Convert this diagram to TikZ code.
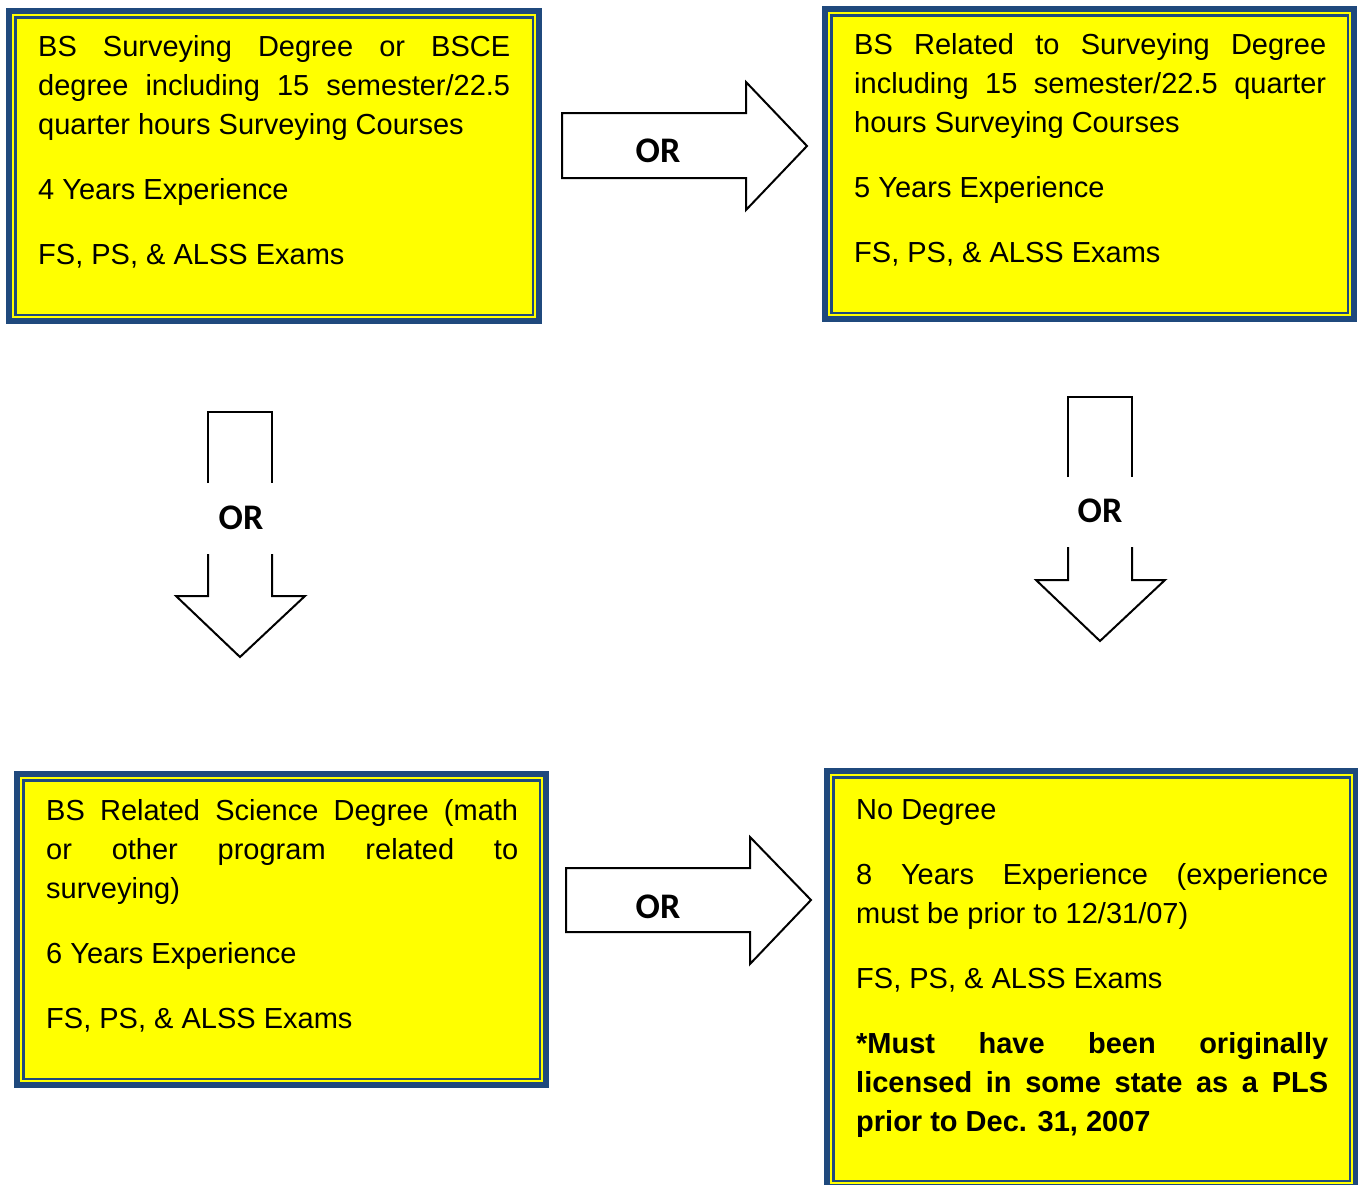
\documentclass[tikz,border=0pt]{standalone}
\usepackage{fontspec}
\setmainfont{Liberation Sans}
\newfontfamily\orfont{Carlito}
\definecolor{bblue}{RGB}{31,73,125}
\definecolor{byel}{RGB}{255,255,0}
\tikzset{
  boxtext/.style={anchor=base west, text width=472pt, inner sep=0pt, align=justify,
    font=\fontsize{29}{39}\selectfont},
  orlabel/.style={font=\orfont\bfseries\fontsize{36}{36}\selectfont, inner sep=0pt},
  blockarrow/.style={draw=black, line width=2pt, line join=miter},
}
\newcommand{\qframe}[4]{%
  \fill[bblue] (#1,#2) rectangle (#3,#4);
  \fill[byel] (#1+6,#2+6) rectangle (#3-6,#4-6);
  \fill[bblue] (#1+8,#2+8) rectangle (#3-8,#4-8);
  \fill[byel] (#1+10.5,#2+10.5) rectangle (#3-10.5,#4-10.5);
}
\newcommand{\qsetup}{\setlength{\parskip}{26pt}\tolerance=10000 \hbadness=10000 \pretolerance=-1 \lefthyphenmin=64 }
\begin{document}
\begin{tikzpicture}[x=1pt,y=-1pt]
\useasboundingbox (0,0) rectangle (1358,1184);
\fill[white] (0,0) rectangle (1358,1184);

% frames
\qframe{6}{8}{542}{324}
\qframe{822}{6}{1357}{322}
\qframe{14}{771}{549}{1088}
\qframe{824}{768}{1359}{1190}

% texts
\node[boxtext] (b1) at (38,56) {\qsetup BS Surveying Degree or BSCE\linebreak degree including 15 semester/22.5\linebreak quarter hours Surveying Courses\par 4 Years Experience\par FS, PS, \& ALSS Exams};
\node[boxtext] (b2) at (854,54) {\qsetup BS Related to Surveying Degree\linebreak including 15 semester/22.5 quarter\linebreak hours Surveying Courses\par 5 Years Experience\par FS, PS, \& ALSS Exams};
\node[boxtext] (b3) at (46,820) {\qsetup BS Related Science Degree (math\linebreak or other program related to\linebreak surveying)\par 6 Years Experience\par FS, PS, \& ALSS Exams};
\node[boxtext] (b4) at (856,819) {\qsetup No Degree\par 8 Years Experience (experience\linebreak must be prior to 12/31/07)\par FS, PS, \& ALSS Exams\par \textbf{*Must have been originally\linebreak licensed in some state as a PLS\linebreak prior to Dec. 31, 2007}};

% right arrow top
\draw[blockarrow] (562,113) -- (746,113) -- (746,82) -- (807,146) -- (746,210) -- (746,178) -- (562,178) -- cycle;
\node[orlabel] (or1) at (658,151) {OR};

% right arrow bottom
\draw[blockarrow] (566,868) -- (750,868) -- (750,837) -- (811,900) -- (750,964) -- (750,932) -- (566,932) -- cycle;
\node[orlabel] (or4) at (658,907) {OR};

% down arrow left
\draw[blockarrow] (208,483) -- (208,412) -- (272,412) -- (272,483);
\draw[blockarrow] (272,554) -- (272,596) -- (305,596) -- (240,657) -- (176,596) -- (208,596) -- (208,554);
\node[orlabel] (or2) at (241,518) {OR};

% down arrow right
\draw[blockarrow] (1068,477) -- (1068,397) -- (1132,397) -- (1132,477);
\draw[blockarrow] (1132,547) -- (1132,580) -- (1165,580) -- (1100,641) -- (1036,580) -- (1068,580) -- (1068,547);
\node[orlabel] (or3) at (1100,511) {OR};
\end{tikzpicture}
\end{document}
